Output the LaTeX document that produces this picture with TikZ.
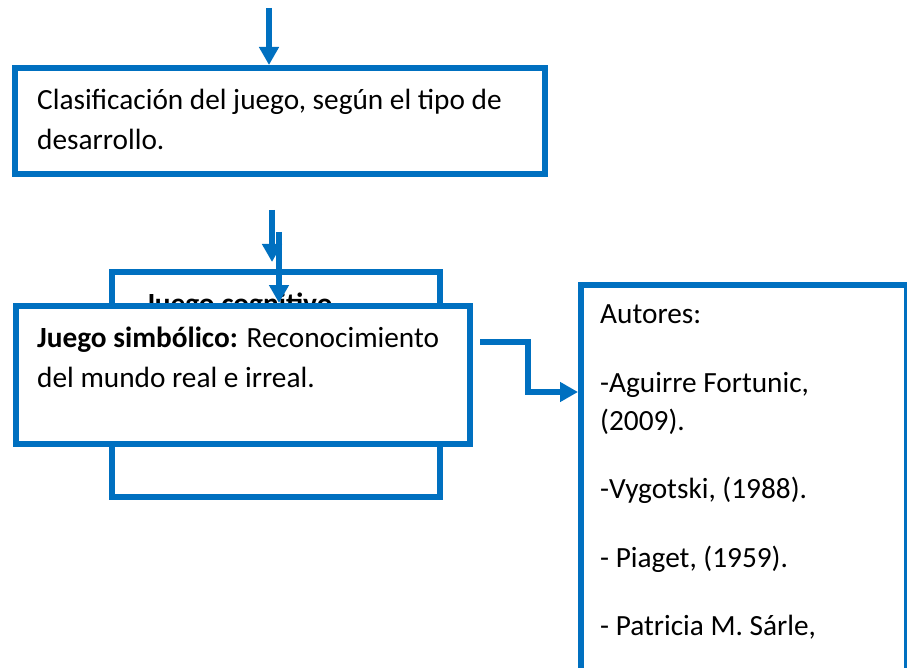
\documentclass[tikz,border=0pt]{standalone}
\usepackage{fontspec}
\setmainfont{Carlito}
\usetikzlibrary{arrows.meta}
\definecolor{azul}{RGB}{0,112,192}

\begin{document}
\begin{tikzpicture}[x=1pt,y=-1pt,
    caja/.style={draw=azul,line width=6pt,inner sep=0pt,fill=white},
    texto/.style={inner sep=0pt,anchor=base west,align=left,
      font=\fontsize{29.3}{40}\selectfont},
    flecha/.style={azul,line width=5.5pt,-{Triangle[length=18pt,width=19pt]}}]
  \useasboundingbox (0,0) rectangle (907,668);
  \clip (0,0) rectangle (907,668);
  % cajas (base = ultima linea)
  \node[caja,minimum width=530,minimum height=106] (clasif) at (280,121) {};
  \node[texto] (tclasif) at (37,150) {Clasificación del juego, según el tipo de\\desarrollo.};
  \node[caja,minimum width=328,minimum height=225] (cogn) at (276,384.5) {};
  \node[texto] (tcogn) at (145,313) {\textbf{Juego cognitivo}};
  % flechas de entrada
  \coordinate (entrada) at (269,8);
  \coordinate (bajadaA) at (272,210);
  \coordinate (bajadaB) at (279,232);
  \draw[flecha] (entrada) -- (entrada |- clasif.north);
  \draw[flecha,shorten >=7pt] (bajadaA) -- (bajadaA |- cogn.north);
  \draw[flecha] (bajadaB) -- (bajadaB |- 0,303);
  \node[caja,minimum width=454,minimum height=138] (simb) at (243,375) {};
  \node[texto] (tsimb) at (37,387) {\textbf{Juego simbólico:} Reconocimiento\\del mundo real e irreal.};
  \node[caja,minimum width=326,minimum height=420,anchor=north west] (aut) at (578,282) {};
  \node[texto,font=\fontsize{29.3}{38}\selectfont] (taut) at (600,635)
    {Autores:\\[31pt]-Aguirre Fortunic,\\(2009).\\[30pt]-Vygotski, (1988).\\[31pt]- Piaget, (1959).\\[30pt]- Patricia M. Sárle,};
  % conector
  \coordinate (salida) at (480,342);
  \draw[flecha] (salida) -- ++(48,0) |- (aut.west |- 0,392);
\end{tikzpicture}
\end{document}
